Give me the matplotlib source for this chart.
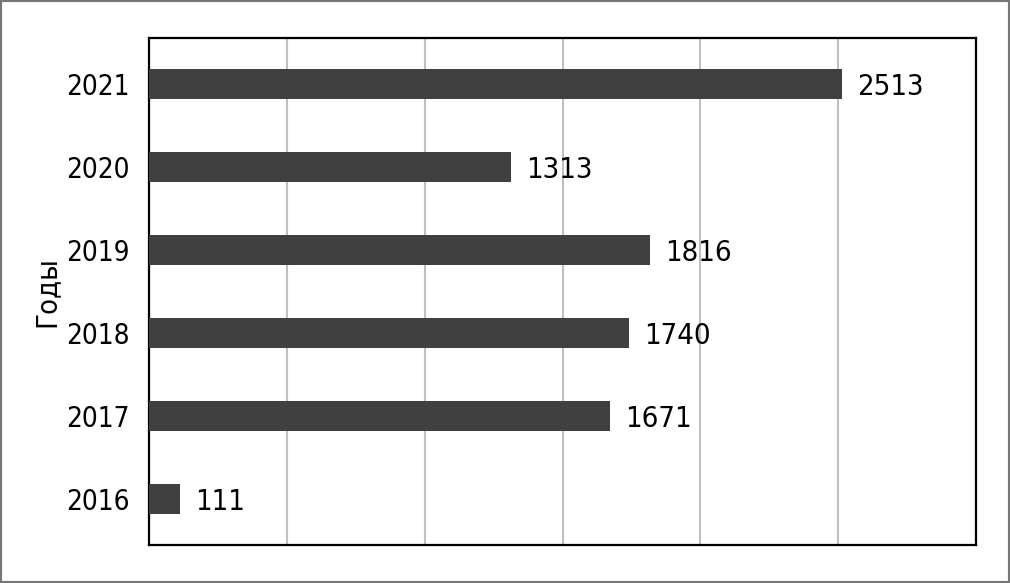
import matplotlib.pyplot as plt
from matplotlib.patches import Rectangle

years = ['2016', '2017', '2018', '2019', '2020', '2021']
values = [111, 1671, 1740, 1816, 1313, 2513]

plt.rcParams['font.family'] = ['DejaVu Sans']
plt.rcParams['font.stretch'] = 'condensed'

fig = plt.figure(figsize=(10.1, 5.83), dpi=100)
ax = fig.add_axes([149 / 1010, 38 / 583, 827 / 1010, 507 / 583])

ax.barh(range(len(years)), values, height=0.36, color='#404040', zorder=3)
for i, v in enumerate(values):
    ax.text(v + 55, i - 0.04, str(v), va='center', ha='left', fontsize=21, color='black')

ax.set_xlim(0, 3000)
ax.set_ylim(-0.554, len(years) - 1 + 0.554)
ax.set_xticks(range(0, 3001, 500))
ax.set_xticklabels([])
ax.tick_params(axis='x', length=0)
ax.tick_params(axis='y', length=0, labelsize=20, pad=14)
ax.set_yticks(range(len(years)))
ax.set_yticklabels(years)
ax.grid(axis='x', color='#c0c0c0', linewidth=1.5, zorder=0)
for s in ax.spines.values():
    s.set_linewidth(1.6)
    s.set_color('black')
ax.set_ylabel('Годы', fontsize=21)
ax.yaxis.set_label_coords(-0.107, 0.5)

fig.patches.append(Rectangle((0, 0), 1, 1, transform=fig.transFigure, fill=False,
                             edgecolor='#777777', linewidth=3))

fig.savefig('out.png', dpi=100)
